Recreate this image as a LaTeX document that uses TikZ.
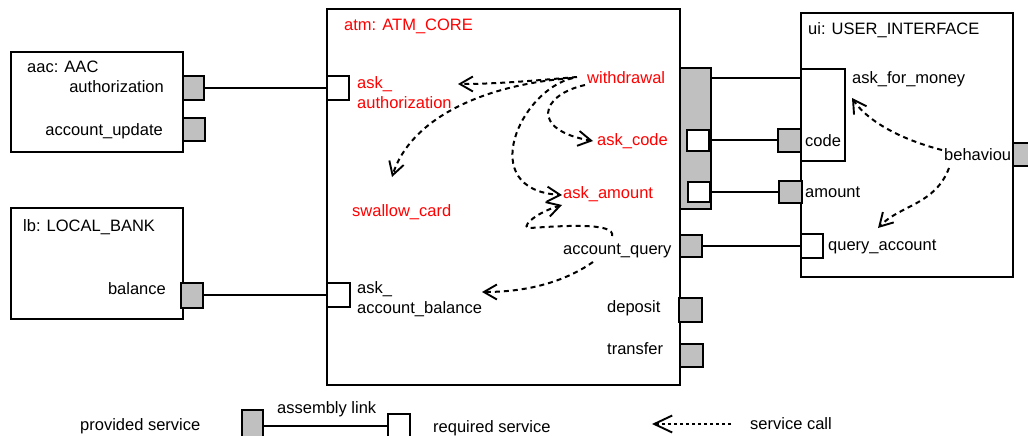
\documentclass[tikz,border=0pt]{standalone}
\usepackage{fontspec}
\setmainfont{Liberation Sans}
\usetikzlibrary{arrows.meta}
\definecolor{portgray}{HTML}{C0C0C0}
\definecolor{callred}{HTML}{FF0000}

\begin{document}
\begin{tikzpicture}[x=1pt,y=-1pt,
  txt/.style={font=\fontsize{16.5}{20}\selectfont, inner sep=0pt, text height=11.8pt, text depth=0pt},
  mtxt/.style={font=\fontsize{16.5}{20}\selectfont, inner sep=0pt, align=left, anchor=north west},
  rtxt/.style={txt, text=callred},
  comp/.style={draw, line width=2pt, inner sep=0pt, fill=white},
  pport/.style={draw, line width=2pt, fill=portgray, inner sep=0pt, minimum width=22pt, minimum height=23pt},
  rport/.style={draw, line width=2pt, fill=white, inner sep=0pt, minimum width=22pt, minimum height=23pt},
  link/.style={line width=2pt},
  call/.style={line width=2pt, dash pattern=on 5pt off 4pt,
    -{Straight Barb[length=13pt,width=15pt,line width=1.9pt]}},
]
\useasboundingbox (0,0) rectangle (1028,436);
\clip (0,0) rectangle (1028,436);

% components
\node[comp, minimum width=172pt, minimum height=100pt] (aac) at (97,102) {};
\node[comp, minimum width=172pt, minimum height=111pt] (lb) at (97,263.5) {};
\node[comp, minimum width=353pt, minimum height=376pt] (atm) at (503.5,197) {};
\node[comp, minimum width=212pt, minimum height=264pt] (ui) at (907,145) {};
\node[draw, fill=white, line width=2.6pt, inner sep=0pt, minimum width=44pt, minimum height=92pt] (uiMoney) at (823,115) {};

% component labels and service names
\node[txt, anchor=west] (aacName) at (27,67) {aac: AAC};
\node[txt, anchor=east] (aacAuthL) at (164,87) {authorization};
\node[txt, anchor=east] (aacUpdL) at (163,130) {account\_update};
\node[txt, anchor=west] (lbName) at (23,226) {lb: LOCAL\_BANK};
\node[txt, anchor=east] (lbBalL) at (166,289) {balance};

\node[rtxt, anchor=west] (atmName) at (344,25) {atm: ATM\_CORE};
\node[mtxt, text=callred] (askAuthL) at (357,76) {ask\_\\authorization};
\node[rtxt, anchor=west] (wdL) at (587,78) {withdrawal};
\node[rtxt, anchor=west] (askCodeL) at (597,140) {ask\_code};
\node[rtxt, anchor=west] (askAmtL) at (563,193) {ask\_amount};
\node[rtxt, anchor=west] (swallowL) at (352,211) {swallow\_card};
\node[txt, anchor=west] (queryL) at (563,249) {account\_query};
\node[mtxt] (askBalL) at (357,281) {ask\_\\account\_balance};
\node[txt, anchor=west] (depositL) at (607,307) {deposit};
\node[txt, anchor=west] (transferL) at (607,349) {transfer};

\node[txt, anchor=west] (uiName) at (808,29) {ui: USER\_INTERFACE};
\node[txt, anchor=west] (moneyL) at (852,78) {ask\_for\_money};
\node[txt, anchor=west] (codeL) at (805,141) {code};
\node[txt, anchor=west] (amountL) at (805,192) {amount};
\node[txt, anchor=west] (uiQueryL) at (828,245) {query\_account};
\node[txt, anchor=west] (behavL) at (944,155) {behaviou};

% ports
\node[pport, minimum width=21pt] (aacAuth) at (193.5,88) {};
\node[pport] (aacUpd) at (194,129.5) {};
\node[pport, minimum height=25pt] (lbBal) at (192,295) {};

\node[rport] (atmAskAuth) at (338,88) {};
\node[rport, minimum width=23pt, minimum height=24pt] (atmAskBal) at (338.5,295) {};
\node[pport, minimum width=31pt, minimum height=141pt] (atmWd) at (695.5,138.5) {};
\node[rport, minimum height=21pt] (atmCode) at (698,140) {};
\node[rport, minimum height=20pt] (atmAmount) at (699,192) {};
\node[pport, minimum height=22pt] (atmQuery) at (691,246) {};
\node[pport, minimum width=23pt, minimum height=24pt] (atmDeposit) at (690.5,310) {};
\node[pport, minimum width=23pt] (atmTransfer) at (691.5,355.5) {};

\node[pport, minimum width=23pt] (uiCode) at (789.5,140) {};
\node[pport, minimum width=23pt, minimum height=22pt] (uiAmount) at (790,192) {};
\node[rport, minimum height=24pt] (uiQuery) at (812,246) {};
\node[pport] (uiBehav) at (1024,154.5) {};

% assembly links
\draw[link] (aacAuth.east) -- (atmAskAuth.west);
\draw[link] (lbBal.east) -- (atmAskBal.west);
\draw[link] ([yshift=-11pt]atmWd.north east) -- ([yshift=-11pt]atmWd.north east -| uiMoney.west);
\draw[link] (atmCode.east) -- (uiCode.west);
\draw[link] (atmAmount.east) -- (uiAmount.west);
\draw[link] (atmQuery.east) -- (uiQuery.west);

% service calls inside ATM_CORE
\coordinate (wdA) at (577,77);
\coordinate (wdB) at (572,78);
\coordinate (wdC) at (585,85);
\coordinate (wdD) at (573,78);
\coordinate (toAuth) at (458,84);
\coordinate (toSwallow) at (392,177);
\coordinate (toCode) at (593,141);
\coordinate (toAmt) at (562,195);
\coordinate (qA) at (612,236);
\coordinate (qB) at (593,262);
\coordinate (toAmt2) at (562,205);
\coordinate (toBal) at (482,292);

\draw[call] (wdA) .. controls (540,80) and (500,84) .. (toAuth);
\draw[call] (wdB) .. controls (480,85) and (410,120) .. (toSwallow);
\draw[call] (wdC) .. controls (540,95) and (530,130) .. (toCode);
\draw[call] (wdD) .. controls (520,90) and (475,190) .. (toAmt);
\draw[call] (qA) .. controls (616,222) and (560,226) .. (530,228)
               .. controls (520,229) and (532,214) .. (toAmt2);
\draw[call] (qB) .. controls (560,285) and (520,292) .. (toBal);

% service calls inside USER_INTERFACE
\coordinate (bhA) at (942,150);
\coordinate (bhB) at (949,168);
\coordinate (toMoney) at (852,98);
\coordinate (toQuery) at (878,228);
\draw[call] (bhA) .. controls (910,142) and (870,125) .. (toMoney);
\draw[call] (bhB) .. controls (935,205) and (900,205) .. (toQuery);

% legend
\node[txt, anchor=west] (lgProvL) at (80,425) {provided service};
\node[pport, minimum width=21pt, minimum height=40pt] (lgProv) at (252.5,430) {};
\node[rport, minimum width=22pt, minimum height=32pt] (lgReq) at (399,430) {};
\draw[link] (lgProv.east |- 0,426) -- (lgReq.west |- 0,426);
\node[txt, anchor=west] (lgLinkL) at (277,408) {assembly link};
\node[txt, anchor=west] (lgReqL) at (433,427) {required service};
\coordinate (lgCallA) at (731,424);
\coordinate (lgCallB) at (652,424);
\draw[line width=2pt, dash pattern=on 3pt off 3pt,
  -{Straight Barb[length=18pt,width=17pt,line width=1.9pt]}] (lgCallA) -- (lgCallB);
\node[txt, anchor=west] (lgCallL) at (750,424) {service call};
\end{tikzpicture}
\end{document}
